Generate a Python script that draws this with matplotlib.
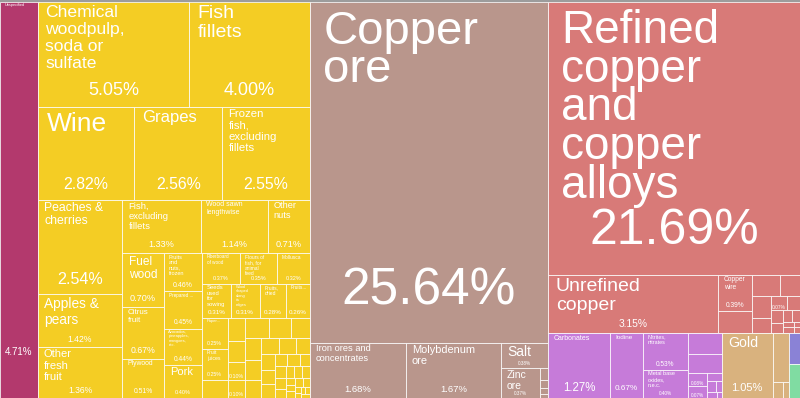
"""Treemap of Chile's product exports, share of total (%)."""
import matplotlib
matplotlib.use('Agg')
from matplotlib import pyplot as plt
from matplotlib.patches import Rectangle

plt.rcParams['font.family'] = ['Liberation Sans', 'DejaVu Sans']

# ---- export shares (%) by sector, '' = unlabelled cell ----
other_names = ['Unspecified']
other_shares = [4.71]

agri_names = ['Chemical\nwoodpulp,\nsoda or\nsulfate', 'Fish\nfillets',
              'Wine', 'Grapes', 'Frozen\nfish,\nexcluding\nfillets',
              'Peaches &\ncherries', 'Apples &\npears', 'Other\nfresh\nfruit',
              'Fish,\nexcluding\nfillets', 'Wood sawn\nlengthwise',
              'Other\nnuts', 'Fuel\nwood', 'Citrus\nfruit', 'Plywood',
              'Fruits\nand\nnuts,\nfrozen', 'Prepared ...',
              'Avocados,\npineapples,\nmangoes,\netc.', 'Pork',
              'Fiberboard\nof wood', 'Flours of\nfish, for\nanimal\nfeed',
              'Mollusca', 'Seeds\nused\nfor\nsowing',
              'Wood\nshaped\nalong\nits\nedges', 'Fruits,\ndried',
              'Fruits...', 'Paper...', 'Fruit\njuices',
              '', '', '', '', '',
              '', '', '', '', '', '', '', '', '', '', '', '', '', '', '', '',
              '', '', '', '', '', '', '', '', '', '', '', '', '', '', '']
agri_shares = [5.05, 4.00, 2.82, 2.56, 2.55, 2.54, 1.42, 1.36, 1.33, 1.14,
               0.71, 0.70, 0.67, 0.51, 0.46, 0.45, 0.44, 0.40, 0.37, 0.35,
               0.32, 0.31, 0.31, 0.28, 0.26, 0.25, 0.25,
               0.15, 0.13, 0.12, 0.10, 0.10,
               0.15, 0.14, 0.12, 0.11, 0.10, 0.09, 0.09, 0.08, 0.07, 0.07,
               0.06, 0.06, 0.05, 0.05, 0.04, 0.04, 0.04, 0.03, 0.03, 0.03,
               0.03, 0.02, 0.02, 0.02, 0.02, 0.02, 0.01, 0.01, 0.01, 0.01,
               0.01]

mineral_names = ['Copper\nore', 'Iron ores and\nconcentrates',
                 'Molybdenum\nore', 'Salt', 'Zinc\nore', '', '', '', '']
mineral_shares = [25.64, 1.68, 1.67, 0.38, 0.37, 0.03, 0.02, 0.015, 0.01]

metal_names = ['Refined\ncopper\nand\ncopper\nalloys', 'Unrefined\ncopper',
               'Copper\nwire', '', '', '', '', '', '', '', '', '', '', '',
               '', '', '', '']
metal_shares = [21.69, 3.15, 0.39, 0.23, 0.19, 0.14, 0.13, 0.09, 0.07, 0.06,
                0.05, 0.04, 0.03, 0.03, 0.02, 0.02, 0.01, 0.01]

chem_names = ['Carbonates', 'Iodine', 'Nitrites,\nnitrates',
              'Metal base\noxides,\nn.e.c.', '', '', '', '', '', '', '', '',
              '']
chem_shares = [1.27, 0.67, 0.53, 0.40, 0.22, 0.20, 0.08, 0.07, 0.04, 0.03,
               0.02, 0.02, 0.01]

stone_names = ['Gold', '', '', '']
stone_shares = [1.05, 0.25, 0.05, 0.03]

machine_names = ['']
machine_shares = [0.11]
elec_names = ['']
elec_shares = [0.12]

sectors = {
    'other': (other_names, other_shares),
    'agri': (agri_names, agri_shares),
    'mineral': (mineral_names, mineral_shares),
    'metal': (metal_names, metal_shares),
    'chem': (chem_names, chem_shares),
    'stone': (stone_names, stone_shares),
    'machine': (machine_names, machine_shares),
    'elec': (elec_names, elec_shares),
}

colors = {
    'other': '#b3396d',
    'agri': '#f4cd24',
    'mineral': '#b9968c',
    'metal': '#d87a78',
    'chem': '#c67bd9',
    'stone': '#d9b27e',
    'machine': '#8a82d6',
    'elec': '#80dca2',
}

# (name size, share size) in points, None = not drawn
text_pt = {
    ('other', 0): (2.8, 7),
    ('agri', 0): (12.6, 13), ('agri', 1): (14, 13), ('agri', 2): (19, 11.4),
    ('agri', 3): (12, 11.4), ('agri', 4): (8.2, 11.4),
    ('agri', 5): (8.8, 11.6), ('agri', 6): (9.9, 6.2), ('agri', 7): (8, 6.2),
    ('agri', 8): (6.8, 6.6), ('agri', 9): (5, 6.6), ('agri', 10): (6.7, 6.6),
    ('agri', 11): (8.6, 6.6), ('agri', 12): (5.8, 6.3),
    ('agri', 13): (4.9, 4.9),
    ('agri', 14): (4, 5), ('agri', 15): (3.3, 4.8), ('agri', 16): (3, 4.8),
    ('agri', 17): (8, 4),
    ('agri', 18): (3.3, 4), ('agri', 19): (3.5, 4), ('agri', 20): (3.5, 4),
    ('agri', 21): (4.2, 4.5), ('agri', 22): (2.9, 4.5),
    ('agri', 23): (3.6, 4.5), ('agri', 24): (3.5, 4.5),
    ('agri', 25): (3, 3.8), ('agri', 26): (3.7, 3.8),
    ('agri', 30): (None, 3.8), ('agri', 31): (None, 3.8),
    ('mineral', 0): (34, 37), ('mineral', 1): (6.7, 6.8),
    ('mineral', 2): (7.9, 6.8), ('mineral', 3): (10, 3.3),
    ('mineral', 4): (7.5, 3.3),
    ('metal', 0): (33, 36), ('metal', 1): (14, 7.4), ('metal', 2): (4.8, 4.8),
    ('metal', 8): (None, 3.5),
    ('chem', 0): (5, 8.3), ('chem', 1): (4.6, 5.9), ('chem', 2): (3.9, 4.7),
    ('chem', 3): (4, 3.4), ('chem', 6): (None, 3.4), ('chem', 7): (None, 3.4),
    ('stone', 0): (10.2, 8),
}


def cells(sector, *idx):
    return [(sector, i) for i in idx]


# how the area is cut: 'h' = side by side, 'v' = stacked, 'sq' = squarified
layout = ('h', [
    ('other', 0),
    ('v', [
        ('h', cells('agri', 0, 1)),
        ('h', cells('agri', 2, 3, 4)),
        ('h', [
            ('v', cells('agri', 5, 6, 7)),
            ('v', [
                ('h', cells('agri', 8, 9, 10)),
                ('h', [
                    ('v', cells('agri', 11, 12, 13)),
                    ('v', cells('agri', 14, 15, 16, 17)),
                    ('v', [
                        ('h', cells('agri', 18, 19, 20)),
                        ('h', cells('agri', 21, 22, 23, 24)),
                        ('h', [('v', cells('agri', 25, 26, 27)),
                               ('v', cells('agri', 28, 29, 30, 31)),
                               ('sq', cells('agri',
                                            *range(32, len(agri_shares))))]),
                    ]),
                ]),
            ]),
        ]),
    ]),
    ('v', [
        ('mineral', 0),
        ('h', [('mineral', 1), ('mineral', 2),
               ('v', [('mineral', 3),
                      ('h', [('mineral', 4),
                             ('v', cells('mineral', 5, 6, 7, 8))])])]),
    ]),
    ('v', [
        ('v', [('metal', 0),
               ('h', [('metal', 1),
                      ('v', cells('metal', 2, 3)),
                      ('sq', cells('metal', *range(4, len(metal_shares))))])]),
        ('h', [
            ('h', [('chem', 0), ('chem', 1), ('v', cells('chem', 2, 3)),
                   ('v', [('chem', 4), ('chem', 5),
                          ('h', [('v', cells('chem', 6, 7)),
                                 ('sq', cells('chem',
                                              *range(8, len(chem_shares))))])])]),
            ('h', [('stone', 0), ('v', [('stone', 1),
                                        ('h', cells('stone', 2, 3))])]),
            ('v', [('machine', 0), ('elec', 0)]),
        ]),
    ]),
])


def size(node):
    if node[0] in ('h', 'v', 'sq'):
        return sum(size(c) for c in node[1])
    return sectors[node[0]][1][node[1]]


def squarify(items, x, y, w, h, out):
    items = list(items)
    while items:
        tot = sum(size(c) for c in items)
        short = min(w, h)
        long_side = max(w, h)

        def worst(row):
            s = sum(size(c) for c in row)
            thick = s / tot * long_side
            return max(max(thick / (size(c) / s * short),
                           (size(c) / s * short) / thick) for c in row)

        k = 1
        while k < len(items) and worst(items[:k + 1]) <= worst(items[:k]):
            k += 1
        row = items[:k]
        s = sum(size(c) for c in row)
        thick = s / tot * long_side
        pos = 0
        for c in row:
            f = size(c) / s
            if w >= h:
                place(c, x, y + pos, thick, f * h, out)
                pos += f * h
            else:
                place(c, x + pos, y, f * w, thick, out)
                pos += f * w
        if w >= h:
            x += thick
            w -= thick
        else:
            y += thick
            h -= thick
        items = items[k:]


def place(node, x, y, w, h, out):
    kind = node[0]
    if kind in ('h', 'v'):
        tot = size(node)
        pos = 0
        for c in node[1]:
            f = size(c) / tot
            if kind == 'h':
                place(c, x + pos * w, y, f * w, h, out)
            else:
                place(c, x, y + pos * h, w, f * h, out)
            pos += f
    elif kind == 'sq':
        squarify(node[1], x, y, w, h, out)
    else:
        out.append((node, x, y, w, h))


W, H = 800, 396
fig = plt.figure(figsize=(8, 3.98), dpi=100, facecolor='#9c9c9c')
ax = fig.add_axes([0, 0, 1, H / 398])
ax.set_xlim(0, W)
ax.set_ylim(H, 0)
ax.axis('off')

rects = []
place(layout, 0, 0, W, H, rects)

PX = 100 / 72  # pixels per point
for (sector, i), x, y, w, h in rects:
    names, shares = sectors[sector]
    ax.add_patch(Rectangle((x, y), w, h, facecolor=colors[sector],
                           edgecolor=(1, 1, 1, 0.75), linewidth=0.7))
    name_pt, pct_pt = text_pt.get((sector, i), (None, None))
    if name_pt and names[i]:
        em = name_pt * PX
        spacing = 1.15 if name_pt < 20 else 0.84
        ax.text(x + 4 + 0.2 * em, y + 0.5 + 0.15 * em, names[i],
                fontsize=name_pt, color='white', ha='left', va='top',
                linespacing=spacing)
    if pct_pt:
        em = pct_pt * PX
        ax.text(x + w / 2, y + h - 0.11 * h - 0.28 * em, f'{shares[i]:.2f}%',
                fontsize=pct_pt, color='white', ha='center', va='center')

fig.savefig('out.png', dpi=100, facecolor=fig.get_facecolor())
